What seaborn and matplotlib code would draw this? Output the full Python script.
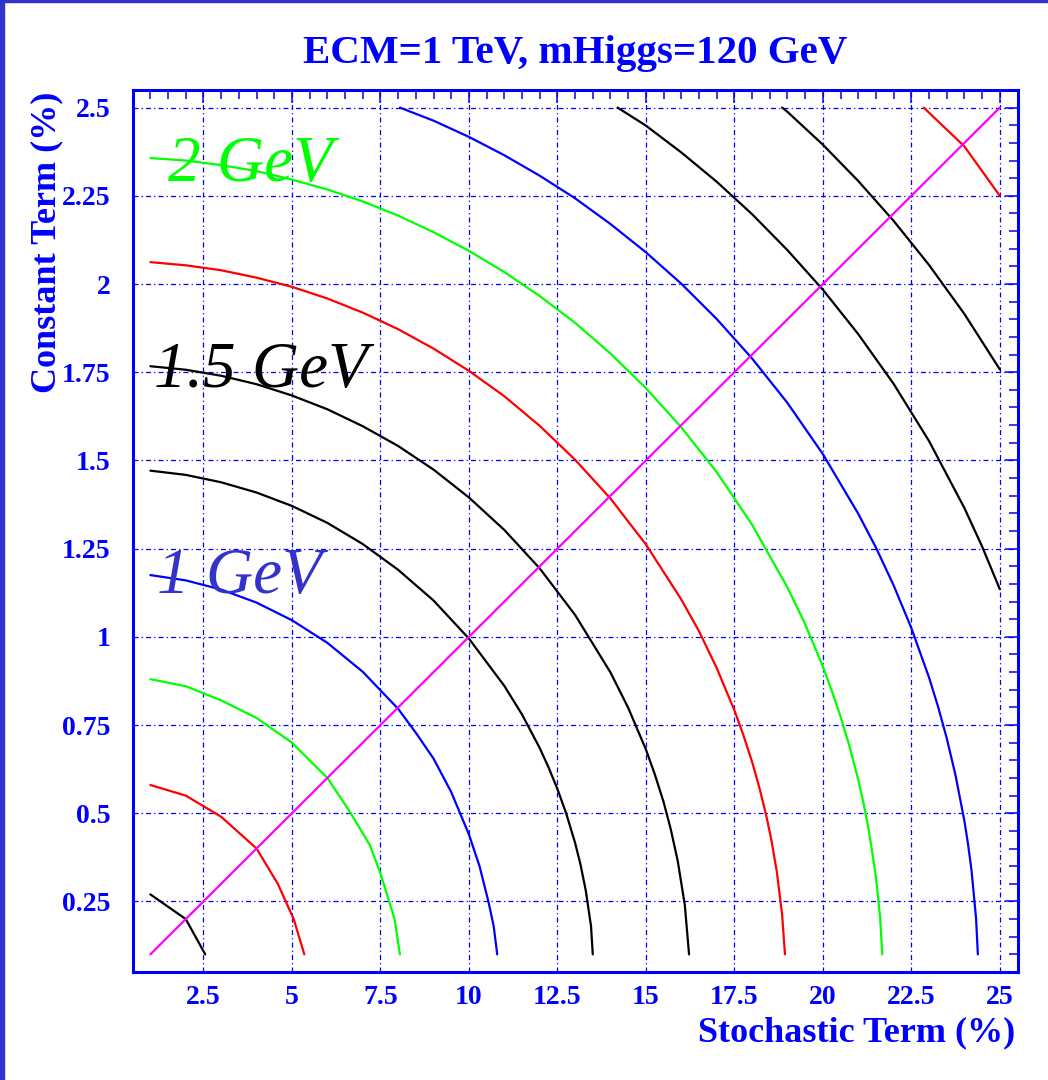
import matplotlib
matplotlib.use("Agg")
import matplotlib.pyplot as plt
from matplotlib.ticker import MultipleLocator
from matplotlib.patches import Rectangle
import pandas as pd
import seaborn as sns

# ---- contour curves: stochastic term (x, %) vs constant term (y, %) ----
c1_x = [1.0, 2.0, 2.55]
c1_y = [0.27, 0.20, 0.10]

c2_x = [1.0, 2.0, 3.0, 4.0, 4.6, 5.05, 5.35]
c2_y = [0.58, 0.55, 0.49, 0.40, 0.30, 0.20, 0.10]

c3_x = [1, 2, 3, 4, 5, 6, 6.6, 7.2, 7.5, 7.9, 8.05]
c3_y = [0.88, 0.86, 0.82, 0.77, 0.70, 0.60, 0.51, 0.41, 0.33, 0.20, 0.10]

c4_x = [1, 2, 3, 4, 5, 6, 7, 8, 8.5, 9, 9.5, 9.75, 10, 10.3, 10.55, 10.7,
        10.8]
c4_y = [1.175, 1.16, 1.134, 1.097, 1.047, 0.983, 0.901, 0.796, 0.728, 0.655,
        0.56, 0.50, 0.44, 0.35, 0.25, 0.18, 0.10]

c5_x = [1, 2, 3, 4, 5, 6, 7, 8, 9, 10, 11, 11.5, 12, 12.25, 12.5, 12.75, 13,
        13.15, 13.3, 13.45, 13.5]
c5_y = [1.471, 1.459, 1.438, 1.409, 1.371, 1.323, 1.263, 1.190, 1.103, 0.995,
        0.861, 0.780, 0.685, 0.630, 0.569, 0.499, 0.416, 0.356, 0.282, 0.18,
        0.10]

c6_x = [1, 2, 3, 4, 5, 6, 7, 8, 9, 10, 11, 12, 13, 14, 14.5, 15, 15.25, 15.5,
        15.7, 15.9, 16.1, 16.22]
c6_y = [1.767, 1.757, 1.740, 1.716, 1.684, 1.645, 1.597, 1.541, 1.474, 1.395,
        1.303, 1.194, 1.062, 0.899, 0.799, 0.681, 0.611, 0.532, 0.456, 0.365,
        0.240, 0.10]

c7_x = [1, 2, 3, 4, 5, 6, 7, 8, 9, 10, 11, 12, 13, 14, 15, 16, 16.5, 17, 17.5,
        17.75, 18, 18.2, 18.4, 18.55, 18.7, 18.85, 18.93]
c7_y = [2.062, 2.053, 2.039, 2.018, 1.992, 1.959, 1.919, 1.872, 1.817, 1.754,
        1.682, 1.598, 1.502, 1.392, 1.262, 1.106, 1.016, 0.912, 0.792, 0.723,
        0.646, 0.575, 0.494, 0.422, 0.334, 0.212, 0.10]

c8_x = [1, 2, 3, 4, 5, 6, 7, 8, 9, 10, 11, 12, 13, 14, 15, 16, 17, 18, 19,
        19.5, 20, 20.25, 20.5, 20.75, 21, 21.15, 21.3, 21.5, 21.62, 21.68]
c8_y = [2.357, 2.350, 2.337, 2.320, 2.296, 2.268, 2.234, 2.194, 2.147, 2.094,
        2.034, 1.966, 1.890, 1.803, 1.705, 1.594, 1.467, 1.318, 1.140, 1.036,
        0.916, 0.848, 0.774, 0.691, 0.595, 0.528, 0.451, 0.320, 0.202, 0.10]

c9_x = [8.05, 9, 10, 11, 12, 13, 14, 15, 16, 17, 18, 19, 20, 21, 21.5, 22,
        22.5, 23, 23.25, 23.5, 23.75, 24, 24.1, 24.2, 24.33, 24.38]
c9_y = [2.5, 2.463, 2.417, 2.365, 2.307, 2.243, 2.170, 2.090, 2.001, 1.901,
        1.789, 1.663, 1.518, 1.349, 1.253, 1.146, 1.025, 0.885, 0.804, 0.713,
        0.607, 0.478, 0.414, 0.339, 0.201, 0.10]

c10_x = [14.2, 15, 16, 17, 18, 19, 20, 21, 22, 23, 24, 24.5, 25]
c10_y = [2.5, 2.449, 2.373, 2.290, 2.198, 2.096, 1.984, 1.858, 1.717, 1.555,
         1.365, 1.256, 1.135]

c11_x = [18.85, 19, 20, 21, 22, 23, 24, 25]
c11_y = [2.5, 2.488, 2.395, 2.292, 2.179, 2.054, 1.915, 1.758]

c12_x = [22.85, 24, 25]
c12_y = [2.5, 2.39, 2.25]

# equal-term diagonal (constant = stochastic / 10)
diag_x = [1, 25]
diag_y = [0.1, 2.5]

curve_names = ["c1", "c2", "c3", "c4", "c5", "c6", "c7", "c8", "c9", "c10",
               "c11", "c12", "diag"]
curve_xs = [c1_x, c2_x, c3_x, c4_x, c5_x, c6_x, c7_x, c8_x, c9_x, c10_x,
            c11_x, c12_x, diag_x]
curve_ys = [c1_y, c2_y, c3_y, c4_y, c5_y, c6_y, c7_y, c8_y, c9_y, c10_y,
            c11_y, c12_y, diag_y]
curve_colors = ["#000000", "#ff0000", "#00ff00", "#0000ff", "#000000",
                "#000000", "#ff0000", "#00ff00", "#0000ff", "#000000",
                "#000000", "#ff0000", "#ff00ff"]

# contour labels
label_texts = ["2 GeV", "1.5 GeV", "1 GeV"]
label_x = [1.50, 1.11, 1.18]
label_y = [2.293, 1.707, 1.124]
label_colors = ["#00ff00", "#000000", "#3333cc"]

x_ticks = [2.5, 5, 7.5, 10, 12.5, 15, 17.5, 20, 22.5, 25]
x_tick_labels = ["2.5", "5", "7.5", "10", "12.5", "15", "17.5", "20",
                 "22.5", "25"]
y_ticks = [0.25, 0.5, 0.75, 1, 1.25, 1.5, 1.75, 2, 2.25, 2.5]
y_tick_labels = ["0.25", "0.5", "0.75", "1", "1.25", "1.5", "1.75", "2",
                 "2.25", "2.5"]

title_text = "ECM=1 TeV, mHiggs=120 GeV"
x_label_text = "Stochastic Term (%)"
y_label_text = "Constant Term (%)"

# ---- build long table ----
rows = []
for name, xs, ys in zip(curve_names, curve_xs, curve_ys):
    for xv, yv in zip(xs, ys):
        rows.append({"curve": name, "x": xv, "y": yv})
df = pd.DataFrame(rows)
palette = dict(zip(curve_names, curve_colors))

sns.set_theme(style="white")
plt.rcParams["font.family"] = ["Liberation Serif", "DejaVu Serif"]

BLUE = "#0000ff"

fig = plt.figure(figsize=(10.48, 10.8), dpi=100)
fig.patch.set_facecolor("white")
ax = fig.add_axes([0.1266, 0.1, 0.8443, 0.8167])

sns.lineplot(data=df, x="x", y="y", hue="curve", hue_order=curve_names,
             palette=palette, sort=False, estimator=None, legend=False,
             linewidth=1.6, ax=ax)

ax.set_xlim(0.5, 25.5)
ax.set_ylim(0.05, 2.55)

ax.set_xticks(x_ticks)
ax.set_xticklabels(x_tick_labels)
ax.set_yticks(y_ticks)
ax.set_yticklabels(y_tick_labels)
ax.xaxis.set_minor_locator(MultipleLocator(0.5))
ax.yaxis.set_minor_locator(MultipleLocator(0.05))

ax.grid(True, which="major", color=BLUE,
        linestyle=(0, (4, 2.5, 1, 2.5)), linewidth=0.9)
ax.set_axisbelow(True)

for side in ["left", "right", "top", "bottom"]:
    ax.spines[side].set_color(BLUE)
    ax.spines[side].set_linewidth(2.2)

ax.tick_params(which="both", direction="in", top=True, right=True,
               color=BLUE, width=1.1)
ax.tick_params(which="major", length=9.5)
ax.tick_params(which="minor", length=6.5)
ax.tick_params(axis="x", which="major", pad=9, labelcolor=BLUE)
ax.tick_params(axis="y", which="major", pad=16, labelcolor=BLUE)
for lab in ax.get_xticklabels() + ax.get_yticklabels():
    lab.set_fontsize(20)
    lab.set_fontweight("bold")

ax.set_xlabel("")
ax.set_ylabel("")

for t, xv, yv, c in zip(label_texts, label_x, label_y, label_colors):
    ax.text(xv, yv, t, color=c, fontsize=47, fontstyle="italic",
            ha="left", va="baseline")

fig.text(0.5487, 0.9414, title_text, ha="center", va="baseline",
         fontsize=29.5, fontweight="bold", color=BLUE)
fig.text(0.9692, 0.0355, x_label_text, ha="right", va="baseline",
         fontsize=26, fontweight="bold", color=BLUE)
fig.text(55 / 1048, 1 - 92 / 1080, y_label_text, rotation=90,
         rotation_mode="anchor", ha="right", va="baseline",
         fontsize=26, fontweight="bold", color=BLUE)

# slide frame edges
fig.patches.append(Rectangle((0, 0), 4 / 1048, 1, transform=fig.transFigure,
                             color="#3333cc", zorder=10))
fig.patches.append(Rectangle((0, 1 - 2 / 1080), 1, 2 / 1080,
                             transform=fig.transFigure, color="#3333cc",
                             zorder=10))

fig.savefig("out.png", dpi=100, facecolor="white")
